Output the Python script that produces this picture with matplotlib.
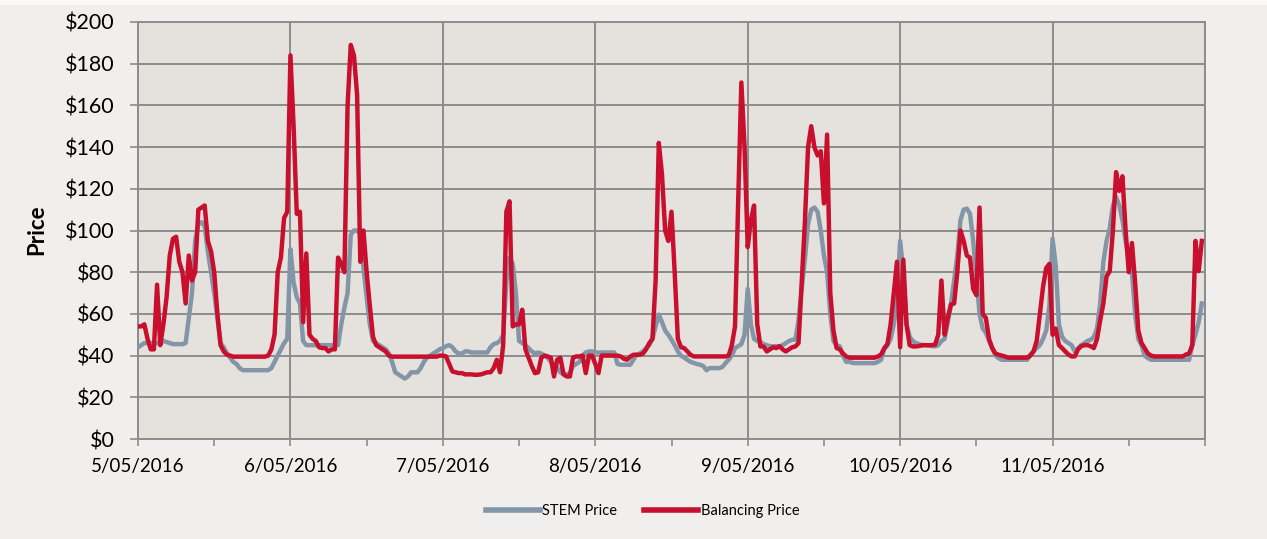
import matplotlib
matplotlib.use("Agg")
import matplotlib.pyplot as plt
import matplotlib.dates as mdates
from matplotlib.lines import Line2D
from matplotlib.patches import Rectangle
from matplotlib.ticker import FuncFormatter, MultipleLocator
import numpy as np
import pandas as pd

# Half-hourly prices, one list of 48 trading intervals per day (5/05 .. 11/05)
stem_0505 = [44, 45, 46, 46, 46, 46, 46, 46, 47, 46.5, 46, 45.5, 45.5, 45.5, 45.5, 46,
             58, 70, 95, 103, 104, 102, 90, 80, 70, 58, 46, 44, 41, 39, 37, 36,
             34, 33, 33, 33, 33, 33, 33, 33, 33, 33, 34, 37, 40, 43, 46, 48]
stem_0605 = [91, 75, 68, 65, 47, 45, 45, 45, 45, 45, 45, 45, 45, 45, 45, 45,
             55, 63, 70, 98, 100, 100, 98, 82, 68, 55, 47, 46, 45, 44, 43, 41,
             37, 32, 31, 30, 29, 30, 32, 32, 32, 34, 37, 39, 40, 41, 42, 43]
stem_0705 = [43.6, 44.5, 45, 44, 42, 41, 41, 42, 42, 41.5, 41.5, 41.5, 41.5, 41.5, 41.5, 44,
             45.5, 46, 47, 50, 75, 87, 84, 70, 47, 46, 45, 43.6, 42, 41, 41.5, 41,
             40, 39, 37, 36, 34, 32, 31, 31, 31.5, 35, 36, 37, 40, 41.5, 42, 42]
stem_0805 = [41.5, 41.5, 41.5, 41.5, 41.5, 41.5, 41.5, 36, 35.6, 35.6, 35.6, 35.6, 38, 40.4, 41, 42,
             43.6, 45, 48, 54, 59.7, 56, 52, 50, 47.6, 45, 42, 40, 39, 38, 37, 36.5,
             36, 35.6, 35, 33, 34, 34, 34, 34, 34.5, 36.4, 38, 40, 43.6, 44.5, 45.5, 50]
stem_0905 = [72, 55, 48, 47, 46.5, 45.5, 45, 44.5, 44.5, 44.5, 44.5, 45, 46, 47, 47.6, 47.6,
             57, 72, 86, 103, 110, 111, 109, 100, 88, 80, 60, 47, 45, 44.4, 40, 37,
             37, 36.5, 36.4, 36.4, 36.4, 36.4, 36.4, 36.4, 36.4, 37, 38, 43, 45, 48, 55, 66]
stem_1005 = [95, 80, 55, 49, 47, 46, 45.5, 45, 45, 44.8, 44.6, 44.4, 45, 47, 48, 56,
             64.5, 76, 88, 105, 110, 110.5, 108, 95, 78, 60, 53, 51, 47, 43.6, 40, 38.8,
             38, 38, 38, 38, 38, 38, 38, 38, 38, 40.4, 42, 43.6, 45, 48, 52, 64]
stem_1105 = [96, 83, 55, 49, 47, 46, 45, 42, 43.5, 45, 46, 47, 47.6, 49, 53, 65,
             85, 95, 101, 112, 116, 112, 105, 95, 87, 80, 60, 48, 45, 40, 38.8, 38,
             38, 38, 38, 38, 38, 38, 38, 38, 38, 38, 38, 38, 45, 50, 56, 65]

bal_0505 = [54, 54, 55, 48, 43, 43, 74, 45, 55, 68, 88, 96, 97, 85, 80, 65,
            88, 76, 80, 110, 111, 112, 95, 90, 80, 60, 45, 42, 40.5, 40, 39.5, 39.5,
            39.5, 39.5, 39.5, 39.5, 39.5, 39.5, 39.5, 39.5, 39.5, 40, 43, 50, 80, 87, 106, 109]
bal_0605 = [184, 150, 108, 109, 56, 89, 50, 48, 47, 44, 43.6, 43.6, 42, 43, 43, 87,
            84, 80, 160, 189, 184, 165, 85, 100, 80, 64, 49, 45, 44, 43, 42, 40,
            39.5, 39.5, 39.5, 39.5, 39.5, 39.5, 39.5, 39.5, 39.5, 39.5, 39.5, 39.5, 39.5, 39.5, 39.5, 40]
bal_0705 = [40, 39.6, 36, 32.4, 32, 31.6, 31.6, 31, 31, 31, 30.8, 30.8, 31, 31.5, 32, 32,
            34, 38, 32, 45, 109, 114, 54, 55, 55, 62, 43, 39, 35, 31.6, 32, 39,
            40, 39.6, 39, 30, 38, 39, 31, 30, 30, 39, 39.6, 39.6, 40, 31.6, 40, 40]
bal_0805 = [36, 31.6, 40, 40, 40, 40, 40, 40, 39.6, 38.5, 38, 39.5, 40.4, 40.4, 40.4, 41,
            43, 46, 48, 76, 142, 127, 100, 95, 109, 80, 48, 44, 43.6, 42, 40.4, 39.6,
            39.6, 39.6, 39.6, 39.6, 39.6, 39.6, 39.6, 39.6, 39.6, 39.6, 40, 45, 54, 114, 171, 140]
bal_0905 = [92, 105, 112, 55, 44.4, 44.4, 42, 43, 44, 43.6, 44.5, 43, 42, 43, 44, 44.4,
            46, 75, 104, 140, 150, 140, 136, 138, 113, 146, 70, 52, 43.6, 43, 41, 39.6,
            39, 39, 39, 39, 39, 39, 39, 39, 39, 39.6, 40.5, 43.6, 45.5, 55, 70, 85]
bal_1005 = [44, 86, 55, 45, 44.4, 44.4, 44.6, 45, 45, 45, 45, 45.2, 50, 76, 50, 58,
            64.5, 65, 80, 100, 95, 88, 87, 72, 69, 111, 60, 58, 48, 43.6, 41, 40.4,
            40, 39.6, 39, 39, 39, 39, 39, 39, 39, 40, 42, 47, 60, 73, 82, 84]
bal_1105 = [50, 53, 45, 43.6, 42, 40.5, 39.6, 39.6, 43, 44.5, 45, 45, 44.5, 43.6, 48, 57,
            65, 78, 80.5, 100, 128, 119, 126, 100, 80, 94, 75, 52, 46, 43.6, 41, 40,
            39.6, 39.6, 39.6, 39.6, 39.6, 39.6, 39.6, 39.6, 39.6, 39.6, 40.5, 41, 45, 95, 80.5, 95]

stem_price = np.concatenate([stem_0505, stem_0605, stem_0705, stem_0805,
                             stem_0905, stem_1005, stem_1105])
balancing_price = np.concatenate([bal_0505, bal_0605, bal_0705, bal_0805,
                                  bal_0905, bal_1005, bal_1105])
times = pd.date_range("2016-05-05 00:00", periods=len(stem_price), freq="30min")

start = pd.Timestamp("2016-05-05")
end = pd.Timestamp("2016-05-12")

STEM_COLOR = "#8396a8"
BAL_COLOR = "#c8102e"
GRID = "#8c8c8c"

plt.rcParams["font.family"] = ["Lato", "DejaVu Sans"]

fig = plt.figure(figsize=(12.67, 5.39), dpi=100, facecolor="#f0efed")
fig.patches.append(Rectangle((0, 1 - 5 / 539), 1, 5 / 539, transform=fig.transFigure,
                             facecolor="#f8f8f7", edgecolor="none", zorder=0))
ax = fig.add_axes([138 / 1267, 1 - 439 / 539, (1205 - 138) / 1267, (439 - 22) / 539])
ax.set_facecolor("#e5e2de")

ax.plot(times, stem_price, color=STEM_COLOR, lw=3.2, solid_joinstyle="round", zorder=3)
ax.plot(times, balancing_price, color=BAL_COLOR, lw=3.2, solid_joinstyle="round", zorder=4)

ax.set_xlim(start, end)
ax.set_ylim(0, 200)

ax.yaxis.set_major_locator(MultipleLocator(20))
ax.yaxis.set_major_formatter(FuncFormatter(lambda v, _: f"${v:.0f}"))

ax.xaxis.set_major_locator(mdates.DayLocator())
ax.xaxis.set_minor_locator(mdates.HourLocator(byhour=[12]))


def day_label(v, _):
    d = mdates.num2date(v).replace(tzinfo=None)
    if d >= end:
        return ""
    return f"{d.day}/{d:%m/%Y}"


ax.xaxis.set_major_formatter(FuncFormatter(day_label))

ax.grid(True, which="major", color=GRID, lw=1.4, zorder=1)
ax.set_axisbelow(True)
for side in ["left", "bottom", "top", "right"]:
    ax.spines[side].set_color(GRID)
    ax.spines[side].set_linewidth(1.4)

ax.tick_params(axis="y", which="major", length=6, width=1.2, color=GRID,
               labelsize=15.5, pad=11)
ax.tick_params(axis="x", which="both", length=5, width=1.2, color=GRID,
               labelsize=13.5, pad=9)

fig.text(37 / 1267, 1 - 230 / 539, "Price", rotation=90, ha="center", va="center",
         fontsize=16, fontweight="bold")

handles = [Line2D([], [], color=STEM_COLOR, lw=4),
           Line2D([], [], color=BAL_COLOR, lw=4)]
fig.legend(handles, ["STEM Price", "Balancing Price"], loc="center",
           bbox_to_anchor=(0.507, 1 - 511 / 539), ncol=2, frameon=False,
           fontsize=10.5, handlelength=3.7, handletextpad=0.2, columnspacing=1.8)

fig.savefig("out.png", dpi=100, facecolor=fig.get_facecolor())
